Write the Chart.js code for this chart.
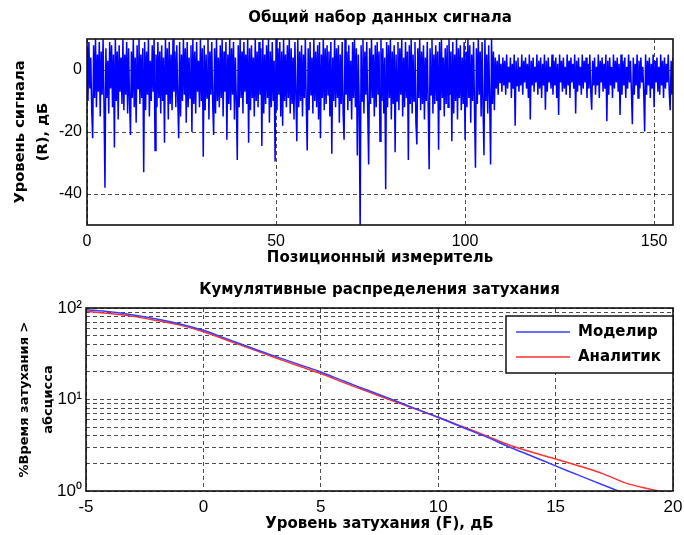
<!DOCTYPE html>
<html>
<head>
<meta charset="utf-8">
<script src="https://cdn.jsdelivr.net/npm/chart.js@4.4.1/dist/chart.umd.min.js"></script>
<style>
  html, body { margin: 0; padding: 0; background: #fff; }
  #wrap { position: relative; width: 684px; height: 535px; }
  #signalChart { position: absolute; left: 0; top: 0; }
  #fadeChart { position: absolute; left: 0; top: 265px; }
</style>
</head>
<body>
<div id="wrap">
  <canvas id="signalChart" width="684" height="270"></canvas>
  <canvas id="fadeChart" width="684" height="270"></canvas>
</div>
<script>
// signal level, dB, four samples per position unit
const signalStep = 0.25;
const signalLevel = [
  7, -10, 9, -6, 4, -13, -22, 8, -9, 10,
  -12, 5, -7, 9, -15, 6, -8, 10, -11, -38,
  7, -9, 3, -14, 9, -6, 8, -12, 5, -25,
  10, -10, 6, -16, 8, -7, 4, -11, 10, -13,
  5, -8, 9, -14, 7, -10, -21, 6, -9, 10,
  -12, 4, -17, 8, -6, 10, -11, 5, -9, 7,
  -33, 9, -13, 6, -8, 10, -15, 3, -10, 8,
  -7, 10, -26, 5, -12, 9, -9, 6, -14, 8,
  -10, 4, -23.5, 10, -8, 7, -16, 9, -11, 5,
  -13, 10, -7, 6, -12, 8, -9, -22, 9, -15,
  5, -10, 10, -8, 7, -17, 9, -12, 4, -9,
  8, -20, 10, -11, 6, -14, 9, -7, 3, -12,
  10, -10, 7, -28, 8, -13, 5, -9, 10, -16,
  6, -8, 9, -11, -21, 7, -14, 10, -10, 4,
  -12, 8, -9, 10, -15, 6, -7, 9, -22.5, 5,
  -11, 10, -13, 7, -8, 9, -16, 4, -10, -29,
  8, -12, 10, -9, 6, -14, 9, -7, 5, -11,
  10, -23.5, 7, -13, 8, -9, 4, -15, 10, -10,
  6, -12, 9, -8, 7, -24.5, 10, -14, 5, -11,
  8, -9, 10, -17, 6, -12, 9, -10, 3, -29.5,
  10, -13, 7, -8, 9, -15, 6, -18, 10, -10,
  5, -12, 8, -9, 10, -14, 7, -11, 4, -16,
  9, -8, -23, 10, -12, 6, -10, 8, -15, 5,
  -9, 10, -11, -26, 7, -13, 9, -8, 4, -14,
  10, -10, 6, -12, 8, -16, 9, -22, 5, -9,
  10, -13, 7, -11, 8, -8, 6, -15, 9, -27,
  4, -10, 10, -12, 7, -9, 8, -17, 5, -11,
  9, -14, -22.5, 10, -8, 6, -13, 8, -10, 3,
  -16, 9, -9, 10, -12, 7, -27.6, 5, -11, -52,
  8, -10, 10, -14, 6, -8, 9, -13, -30.5, 7,
  -11, 10, -9, 5, -15, 8, -12, 9, -8, 6,
  -23, 10, -10, 7, -14, 4, -38.5, 9, -12, 8,
  -9, 10, -16, 6, -11, 8, -26.5, 5, -10, 9,
  -13, 7, -8, 10, -15, 4, -12, 9, -9, 6,
  -29, 8, -11, 10, -14, 5, -10, 9, -17, -24,
  7, -9, 10, -13, 6, -11, 8, -16, 4, -10,
  9, -12, -32, 7, -8, 10, -14, 5, -11, 8,
  -10, 6, -25.7, 9, -13, 10, -9, 4, -15, 7,
  -11, 8, -12, 10, -8, 6, -23, 9, -14, 5,
  -10, 10, -16, 7, -9, 8, -13, 4, -11, 9,
  -22.5, 6, -12, 10, -9, 8, -17, 5, -10, 9,
  -13, -31.5, 7, -11, 10, -8, 6, -15, 9, -12,
  -27.5, 10, -10, 5, -14, 8, -9, -30.5, 10, -11,
  6, -13, 4, -6, 3, -8, 5, -4, 2, -7,
  4, -5, 3, -8, 5, -6, 1, -4, 4, -9,
  2, -6, 5, -18, 3, -5, 4, -7, 1, -5,
  5, -8, 3, -4, 4, -6, 2, -9, 5, -16,
  3, -5, 4, -7, 1, -4, 5, -8, 3, -6,
  4, -9, 2, -5, 5, -12.8, 3, -7, 4, -4,
  1, -6, 5, -8, 3, -5, 4, -9, 2, -14.5,
  5, -4, 3, -7, 4, -6, 1, -8, 5, -5,
  3, -9, 4, -4, 2, -6, 5, -14, 3, -7,
  4, -5, 1, -8, 5, -6, 3, -4, 4, -9,
  2, -6, 5, -7, -12.8, 3, -5, 4, -8, 1,
  -5, 5, -9, 3, -4, 4, -7, 2, -6, 5,
  -16.5, 3, -8, 4, -5, 1, -9, 5, -6, 3,
  -4, 4, -7, 2, -14.5, 5, -8, 3, -5, 4,
  -9, 1, -6, 5, -4, 3, -7, -17.5, 4, -8,
  2, -5, 5, -9, 3, -6, 4, -4, 1, -7,
  -19.8, 5, -8, 3, -5, 4, -9, 2, -6, 5,
  -12, 3, -4, 4, -7, 1, -8, 5, -5, 3,
  -9, 4, -6, 2, -4, 5, -7, -13, 3, -8,
  4
];
const signalXTicks = [0, 50, 100, 150];
const signalYTicks = [-40, -20, 0];

// cumulative fade distributions, % of time fade exceeds abscissa
const simFade = [-5, -4, -3, -2, -1, 0, 1, 2, 3, 4, 5, 6, 7, 8, 9, 10, 11, 12, 13, 14, 15, 16, 17, 17.8];
const simPercent = [96, 91, 84, 76, 67, 57, 46, 37, 30, 24.5, 20, 15.8, 12.6, 10.1, 8.0, 6.4, 5.0, 3.95, 3.05, 2.4, 1.88, 1.48, 1.17, 0.97];
const anaFade = [-5, -4, -3, -2, -1, 0, 1, 2, 3, 4, 5, 6, 7, 8, 9, 10, 11, 12, 13, 14, 15, 16, 17, 18, 19, 19.6];
const anaPercent = [92, 87, 81, 73, 65, 55, 44.5, 36, 29, 23.5, 19.2, 15.2, 12.2, 9.8, 7.9, 6.4, 5.1, 4.05, 3.2, 2.65, 2.24, 1.88, 1.55, 1.22, 1.05, 0.97];
const fadeXTicks = [-5, 0, 5, 10, 15, 20];
const fadeYTicks = [1, 2, 3, 4, 5, 6, 7, 8, 9, 10, 20, 30, 40, 50, 60, 70, 80, 90, 100];
const fadeYLabels = { 1: "10\u2070", 10: "10\u00b9", 100: "10\u00b2" };

const seriesNames = ["Моделир", "Аналитик"];

const FONT = "'Liberation Sans', Arial, sans-serif";
const TITLE_FONT = "'DejaVu Sans', Verdana, sans-serif";

const dashedGrid = {
  color: "rgba(0,0,0,0.7)",
  lineWidth: 1,
  drawTicks: false
};
const gridBorder = { display: false, dash: [4, 3] };

// black frame round the plot area
const frame = {
  id: "frame",
  afterDatasetsDraw(chart) {
    const a = chart.chartArea;
    const ctx = chart.ctx;
    ctx.save();
    ctx.strokeStyle = "#111";
    ctx.lineWidth = 1.6;
    ctx.strokeRect(a.left, a.top, a.right - a.left, a.bottom - a.top);
    ctx.restore();
  }
};

// heading centred over the plot area rather than the canvas
const plotTitle = {
  id: "plotTitle",
  afterDraw(chart, args, opts) {
    const a = chart.chartArea;
    const ctx = chart.ctx;
    ctx.save();
    ctx.font = "bold 15px " + TITLE_FONT;
    ctx.fillStyle = "#000";
    ctx.textAlign = "center";
    ctx.textBaseline = "middle";
    ctx.fillText(opts.text, (a.left + a.right) / 2, opts.y);
    ctx.restore();
  }
};

// boxed legend in the upper right corner
const boxLegend = {
  id: "boxLegend",
  afterDraw(chart) {
    const a = chart.chartArea;
    const ctx = chart.ctx;
    const w = 167, h = 57;
    const x = a.right - w, y = a.top + 8;
    ctx.save();
    ctx.fillStyle = "#fff";
    ctx.fillRect(x, y, w, h);
    ctx.strokeStyle = "#111";
    ctx.lineWidth = 1.5;
    ctx.strokeRect(x, y, w, h);
    ctx.font = "bold 15px " + TITLE_FONT;
    ctx.textBaseline = "middle";
    chart.data.datasets.forEach((ds, i) => {
      const ly = y + 16 + i * 25;
      ctx.strokeStyle = ds.borderColor;
      ctx.lineWidth = 1.5;
      ctx.beginPath();
      ctx.moveTo(x + 10, ly);
      ctx.lineTo(x + 64, ly);
      ctx.stroke();
      ctx.fillStyle = "#000";
      ctx.fillText(ds.label, x + 72, ly);
    });
    ctx.restore();
  }
};

// SIGNAL CHART
new Chart(document.getElementById("signalChart"), {
  type: "line",
  data: {
    datasets: [{
      data: signalLevel.map((v, i) => ({ x: i * signalStep, y: v })),
      borderColor: "rgb(0,0,255)",
      borderWidth: 1.5,
      pointRadius: 0,
      tension: 0
    }]
  },
  options: {
    responsive: false,
    animation: false,
    layout: { padding: { left: 0, right: 11, top: 39, bottom: 0 } },
    plugins: {
      legend: { display: false },
      tooltip: { enabled: false },
      plotTitle: { text: "Общий набор данных сигнала", y: 18.5 }
    },
    scales: {
      x: {
        type: "linear",
        min: 0,
        max: 155,
        afterBuildTicks: axis => { axis.ticks = signalXTicks.map(v => ({ value: v })); },
        afterFit: axis => { axis.height = 45; axis.paddingLeft = 0; axis.paddingRight = 0; },
        grid: dashedGrid,
        border: gridBorder,
        ticks: { color: "#000", font: { family: FONT, size: 16 }, padding: 7, maxRotation: 0 },
        title: {
          display: true,
          text: "Позиционный измеритель",
          color: "#000",
          font: { family: TITLE_FONT, size: 15, weight: "bold" },
          padding: { top: 0, bottom: 3 }
        }
      },
      y: {
        min: -50,
        max: 10,
        afterBuildTicks: axis => { axis.ticks = signalYTicks.map(v => ({ value: v })); },
        afterFit: axis => { axis.width = 87; },
        grid: dashedGrid,
        border: gridBorder,
        ticks: { color: "#000", font: { family: FONT, size: 16 }, padding: 5 },
        title: {
          display: true,
          text: ["Уровень сигнала", "(R), дБ"],
          color: "#000",
          font: { family: TITLE_FONT, size: 14.7, weight: "bold", lineHeight: 1.56 },
          padding: { top: 8.5, bottom: 0 }
        }
      }
    }
  },
  plugins: [frame, plotTitle]
});

// FADE DISTRIBUTION CHART
new Chart(document.getElementById("fadeChart"), {
  type: "line",
  data: {
    datasets: [
      {
        label: seriesNames[0],
        data: simFade.map((f, i) => ({ x: f, y: simPercent[i] })),
        borderColor: "rgb(60,60,255)",
        borderWidth: 1.5,
        pointRadius: 0,
        tension: 0.3
      },
      {
        label: seriesNames[1],
        data: anaFade.map((f, i) => ({ x: f, y: anaPercent[i] })),
        borderColor: "rgb(255,50,50)",
        borderWidth: 1.5,
        pointRadius: 0,
        tension: 0.3
      }
    ]
  },
  options: {
    responsive: false,
    animation: false,
    layout: { padding: { left: 0, right: 11, top: 43, bottom: 0 } },
    plugins: {
      legend: { display: false },
      tooltip: { enabled: false },
      plotTitle: { text: "Кумулятивные распределения затухания", y: 25 }
    },
    scales: {
      x: {
        type: "linear",
        min: -5,
        max: 20,
        afterBuildTicks: axis => { axis.ticks = fadeXTicks.map(v => ({ value: v })); },
        afterFit: axis => { axis.height = 44; axis.paddingLeft = 0; axis.paddingRight = 0; },
        grid: dashedGrid,
        border: gridBorder,
        ticks: { color: "#000", font: { family: FONT, size: 17 }, padding: 6, maxRotation: 0 },
        title: {
          display: true,
          text: "Уровень затухания (F), дБ",
          color: "#000",
          font: { family: TITLE_FONT, size: 15, weight: "bold" },
          padding: { top: 0, bottom: 2 }
        }
      },
      y: {
        type: "logarithmic",
        min: 1,
        max: 100,
        afterBuildTicks: axis => { axis.ticks = fadeYTicks.map(v => ({ value: v })); },
        afterFit: axis => { axis.width = 86; },
        grid: dashedGrid,
        border: gridBorder,
        ticks: {
          color: "#000",
          font: { family: FONT, size: 17 },
          padding: 4,
          autoSkip: false,
          callback: value => fadeYLabels[value] || ""
        },
        title: {
          display: true,
          text: ["%Время затухания >", "абсцисса"],
          color: "#000",
          font: { family: TITLE_FONT, size: 13, weight: "bold", lineHeight: 1.85 },
          padding: { top: 13, bottom: 0 }
        }
      }
    }
  },
  plugins: [frame, plotTitle, boxLegend]
});
</script>
</body>
</html>
